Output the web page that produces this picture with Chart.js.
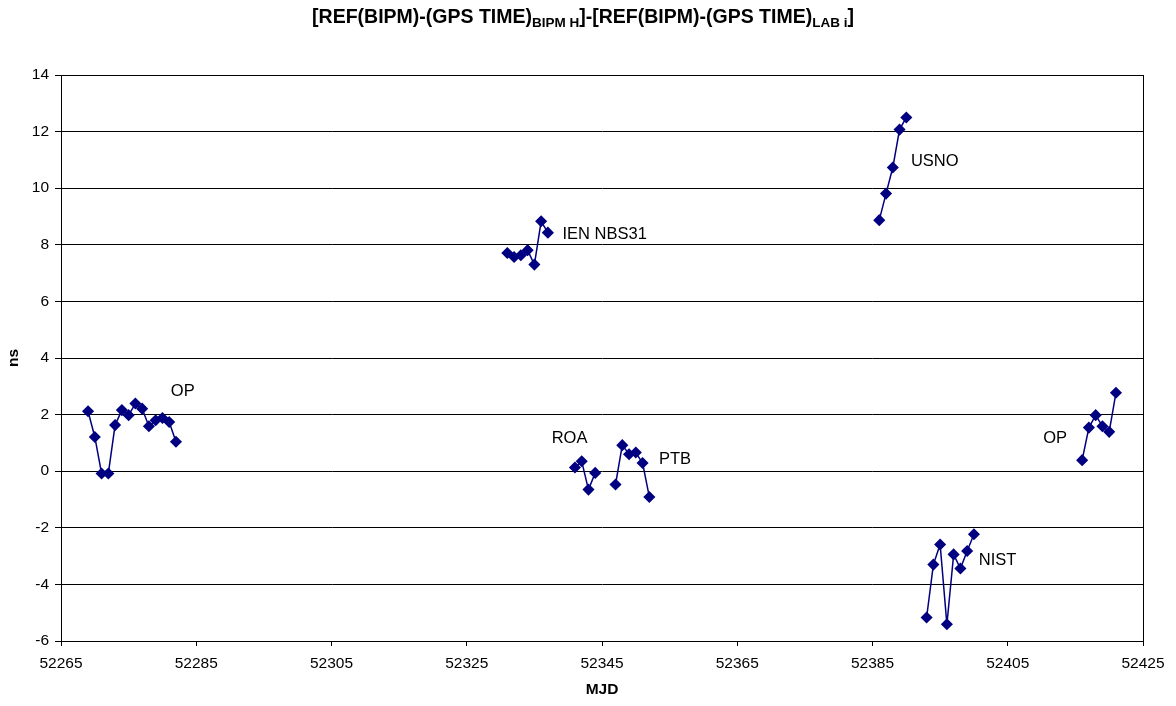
<!DOCTYPE html>
<html>
<head>
<meta charset="utf-8">
<script src="https://cdn.jsdelivr.net/npm/chart.js@4"></script>
<style>
  body { margin: 0; background: #fff; }
  #wrap { width: 1176px; height: 706px; }
</style>
</head>
<body>
<div id="wrap"><canvas id="chart" width="1176" height="706"></canvas></div>
<script>
/* ---------------- DATA ---------------- */

const opMjd1 = [52269, 52270, 52271, 52272, 52273, 52274, 52275, 52276, 52277, 52278, 52279, 52280, 52281, 52282];
const opNs1 = [2.12, 1.21, -0.08, -0.08, 1.63, 2.16, 1.98, 2.39, 2.21, 1.59, 1.80, 1.88, 1.74, 1.04];

const ienMjd = [52331, 52332, 52333, 52334, 52335, 52336, 52337];
const ienNs = [7.71, 7.57, 7.63, 7.81, 7.30, 8.83, 8.43];

const roaMjd = [52341, 52342, 52343, 52344];
const roaNs = [0.13, 0.35, -0.65, -0.06];

const ptbMjd = [52347, 52348, 52349, 52350, 52351, 52352];
const ptbNs = [-0.47, 0.92, 0.60, 0.66, 0.29, -0.91];

const usnoMjd = [52386, 52387, 52388, 52389, 52390];
const usnoNs = [8.87, 9.81, 10.73, 12.07, 12.50];

const nistMjd = [52393, 52394, 52395, 52396, 52397, 52398, 52399, 52400];
const nistNs = [-5.17, -3.30, -2.59, -5.41, -2.94, -3.44, -2.82, -2.23];

const opMjd2 = [52416, 52417, 52418, 52419, 52420, 52421];
const opNs2 = [0.39, 1.54, 1.98, 1.59, 1.39, 2.77];

// label text and where it sits, in data units
const labelText = ["OP", "IEN NBS31", "ROA", "PTB", "USNO", "NIST", "OP"];
const labelMjd = [52283.0, 52345.4, 52340.2, 52355.8, 52394.2, 52403.5, 52412.0];
const labelNs = [2.83, 8.37, 1.17, 0.42, 10.95, -3.14, 1.17];

const xMin = 52265, xMax = 52425, xStep = 20;
const yMin = -6, yMax = 14, yStep = 2;

/* ---------------- HELPERS ---------------- */

const navy = "#000080";
const font = "'Liberation Sans', Arial, sans-serif";

function pts(xs, ys) {
  return xs.map((x, i) => ({ x, y: ys[i] }));
}

function series(name, xs, ys) {
  return {
    label: name,
    data: pts(xs, ys),
    borderColor: navy,
    backgroundColor: navy,
    borderWidth: 1.5,
    pointStyle: "rectRot",
    pointRadius: 5,
    pointHoverRadius: 5,
    tension: 0
  };
}

/* ---------------- PLUGIN: titles, labels, frame ---------------- */

const decor = {
  id: "decor",
  afterDraw(c) {
    const ctx = c.ctx;
    const a = c.chartArea;
    const xs = c.scales.x, ys = c.scales.y;

    ctx.save();

    // frame
    ctx.strokeStyle = "#000";
    ctx.lineWidth = 1;
    ctx.strokeRect(a.left + 0.5, a.top + 0.5, a.right - a.left, a.bottom - a.top);

    // group labels
    ctx.fillStyle = "#000";
    ctx.font = "16.5px " + font;
    ctx.textAlign = "center";
    ctx.textBaseline = "middle";
    labelText.forEach((t, i) => {
      ctx.fillText(t, xs.getPixelForValue(labelMjd[i]), ys.getPixelForValue(labelNs[i]));
    });

    // axis titles
    ctx.font = "bold 15.5px " + font;
    ctx.fillText("MJD", (a.left + a.right) / 2, 690);
    ctx.save();
    ctx.translate(14, (a.top + a.bottom) / 2);
    ctx.rotate(-Math.PI / 2);
    ctx.fillText("ns", 0, 0);
    ctx.restore();

    // main title with subscripts
    const parts = [
      ["[REF(BIPM)-(GPS TIME)", false],
      ["BIPM H", true],
      ["]-[REF(BIPM)-(GPS TIME)", false],
      ["LAB i", true],
      ["]", false]
    ];
    const big = "bold 19.5px " + font, small = "bold 13.5px " + font;
    let w = 0;
    parts.forEach(p => { ctx.font = p[1] ? small : big; w += ctx.measureText(p[0]).width; });
    let x = 583 - w / 2;
    ctx.textAlign = "left";
    ctx.textBaseline = "alphabetic";
    parts.forEach(p => {
      ctx.font = p[1] ? small : big;
      ctx.fillText(p[0], x, p[1] ? 27 : 23);
      x += ctx.measureText(p[0]).width;
    });

    ctx.restore();
  }
};

/* ---------------- CHART ---------------- */

new Chart(document.getElementById("chart"), {
  type: "line",
  data: {
    datasets: [
      series("OP", opMjd1, opNs1),
      series("IEN NBS31", ienMjd, ienNs),
      series("ROA", roaMjd, roaNs),
      series("PTB", ptbMjd, ptbNs),
      series("USNO", usnoMjd, usnoNs),
      series("NIST", nistMjd, nistNs),
      series("OP", opMjd2, opNs2)
    ]
  },
  options: {
    responsive: false,
    animation: false,
    layout: { padding: { top: 75, right: 33, left: 0, bottom: 0 } },
    plugins: {
      legend: { display: false },
      tooltip: { enabled: false },
      title: { display: false }
    },
    scales: {
      x: {
        type: "linear",
        min: xMin,
        max: xMax,
        afterFit: s => { s.height = 65; },
        ticks: {
          stepSize: xStep,
          color: "#000",
          font: { family: font, size: 15.5 },
          padding: 8,
          maxRotation: 0,
          callback: v => String(v)
        },
        grid: { drawOnChartArea: false, drawTicks: true, tickLength: 5, color: "#000" },
        border: { color: "#000", width: 1 }
      },
      y: {
        min: yMin,
        max: yMax,
        afterFit: s => { s.width = 61; },
        ticks: {
          stepSize: yStep,
          color: "#000",
          font: { family: font, size: 15.5 },
          padding: 6,
          callback: v => String(v)
        },
        grid: { color: "#000", lineWidth: 1, drawTicks: true, tickLength: 6 },
        border: { color: "#000", width: 1 }
      }
    }
  },
  plugins: [decor]
});
</script>
</body>
</html>
